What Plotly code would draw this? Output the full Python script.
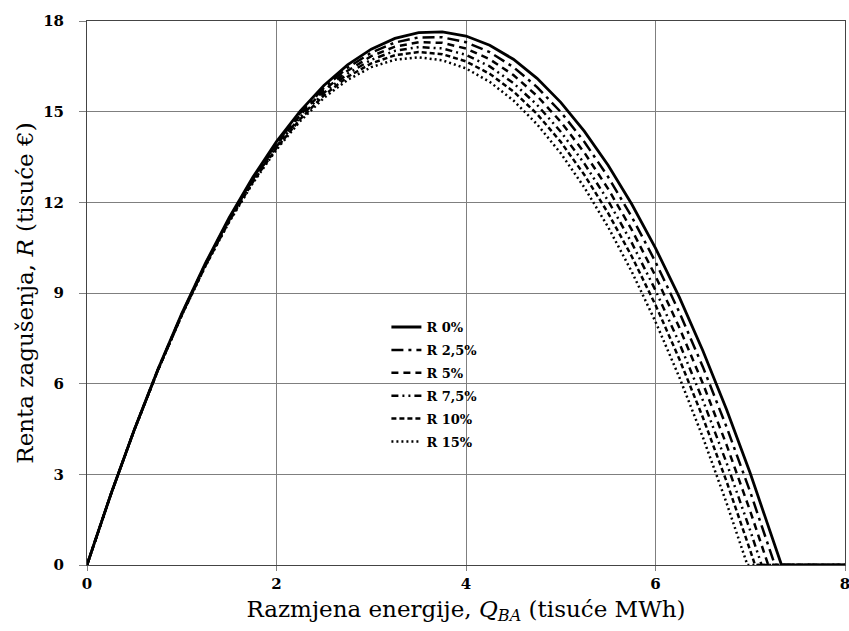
import plotly.graph_objects as go

# Q grid (tisuće MWh)
q_common = [0, 0.25, 0.5, 0.75, 1, 1.25, 1.5, 1.75, 2, 2.25, 2.5, 2.75, 3, 3.25, 3.5,
            3.75, 4, 4.25, 4.5, 4.75, 5, 5.25, 5.5, 5.75, 6, 6.25, 6.5, 6.75]

names = ["R 0%", "R 2,5%", "R 5%", "R 7,5%", "R 10%", "R 15%"]

x_r0 = q_common + [7, 7.33, 8]
y_r0 = [0, 2.326, 4.487, 6.485, 8.318, 9.986, 11.491, 12.831, 14.007, 15.019, 15.867, 16.550,
        17.069, 17.424, 17.614, 17.640, 17.502, 17.200, 16.734, 16.103, 15.308, 14.349,
        13.225, 11.938, 10.486, 8.870, 7.089, 5.144, 3.035, 0, 0]

x_r25 = q_common + [7, 7.26, 8]
y_r25 = [0, 2.325, 4.483, 6.476, 8.304, 9.965, 11.461, 12.790, 13.954, 14.953, 15.785, 16.452,
         16.952, 17.288, 17.457, 17.460, 17.298, 16.969, 16.475, 15.815, 14.990, 13.998,
         12.841, 11.518, 10.030, 8.375, 6.555, 4.568, 2.416, 0, 0]

x_r5 = q_common + [7, 7.19, 8]
y_r5 = [0, 2.324, 4.480, 6.469, 8.291, 9.945, 11.431, 12.751, 13.902, 14.887, 15.704, 16.353,
        16.835, 17.150, 17.297, 17.278, 17.090, 16.735, 16.212, 15.522, 14.665, 13.641,
        12.448, 11.089, 9.562, 7.867, 6.005, 3.976, 1.779, 0, 0]

x_r75 = q_common + [7, 7.12, 8]
y_r75 = [0, 2.323, 4.477, 6.462, 8.278, 9.924, 11.402, 12.711, 13.850, 14.821, 15.622, 16.254,
         16.717, 17.012, 17.137, 17.093, 16.880, 16.498, 15.947, 15.227, 14.337, 13.280,
         12.052, 10.656, 9.090, 7.356, 5.452, 3.380, 1.137, 0, 0]

x_r10 = q_common + [7, 7.05, 8]
y_r10 = [0, 2.322, 4.474, 6.454, 8.264, 9.903, 11.372, 12.669, 13.796, 14.752, 15.538, 16.152,
         16.596, 16.869, 16.971, 16.903, 16.664, 16.254, 15.673, 14.922, 14.000, 12.907,
         11.643, 10.209, 8.604, 6.828, 4.881, 2.764, 0.476, 0, 0]

x_r15 = q_common + [6.97, 8]
y_r15 = [0, 2.323, 4.474, 6.452, 8.257, 9.888, 11.348, 12.634, 13.747, 14.687, 15.455, 16.050,
         16.472, 16.720, 16.797, 16.700, 16.430, 15.987, 15.372, 14.584, 13.623, 12.488,
         11.182, 9.702, 8.049, 6.224, 4.225, 2.054, 0, 0]

x_ticks = [0, 2, 4, 6, 8]
y_ticks = [0, 3, 6, 9, 12, 15, 18]

series = [
    (x_r0, y_r0, "solid", 2.8),
    (x_r25, y_r25, "12px,5px,3px,5px", 2.5),
    (x_r5, y_r5, "7px,5px", 2.5),
    (x_r75, y_r75, "7px,4px,2px,4px,2px,4px", 2.5),
    (x_r10, y_r10, "5px,3px", 2.5),
    (x_r15, y_r15, "2px,3px", 2.5),
]

fig = go.Figure()
for i, (name, (xs, ys, dash, w)) in enumerate(zip(names, series)):
    fig.add_trace(go.Scatter(x=xs, y=ys, mode="lines", name=name, legendgroup=f"g{i}",
                             line=dict(color="black", width=w, dash=dash)))

serif = "DejaVu Serif"
fig.update_layout(
    width=849, height=631,
    margin=dict(l=87, r=4, t=21, b=66),
    paper_bgcolor="white", plot_bgcolor="white",
    showlegend=True,
    legend=dict(x=0.395, y=0.465, xanchor="left", yanchor="top",
                font=dict(family=serif, size=13, color="black", weight="bold"),
                bgcolor="rgba(255,255,255,0)", tracegroupgap=3),
    xaxis=dict(range=[0, 8], tickvals=x_ticks, showgrid=True, gridcolor="#7f7f7f", gridwidth=1,
               zeroline=False, showline=True, linecolor="#444", linewidth=1, mirror=True,
               ticks="outside", ticklen=5, tickcolor="#7f7f7f", automargin=False,
               ticklabeloverflow="allow",
               tickfont=dict(family=serif, size=15, color="black", weight="bold"),
               title=dict(text="Razmjena energije, <i>Q</i><sub><i>BA</i></sub> (tisuće MWh)",
                          font=dict(family=serif, size=23, color="black"), standoff=8)),
    yaxis=dict(range=[0, 18], tickvals=y_ticks, showgrid=True, gridcolor="#7f7f7f", gridwidth=1,
               zeroline=False, showline=True, linecolor="#444", linewidth=1, mirror=True,
               ticks="outside", ticklen=7, tickcolor="#7f7f7f", automargin=False,
               ticklabelstandoff=12, ticklabeloverflow="allow",
               tickfont=dict(family=serif, size=15, color="black", weight="bold"),
               title=dict(text="Renta zagušenja, <i>R</i> (tisuće €)",
                          font=dict(family=serif, size=23, color="black"), standoff=3)),
)

fig.write_html("out.html", config={"displayModeBar": False},
               post_script="document.body.style.margin='0';")
